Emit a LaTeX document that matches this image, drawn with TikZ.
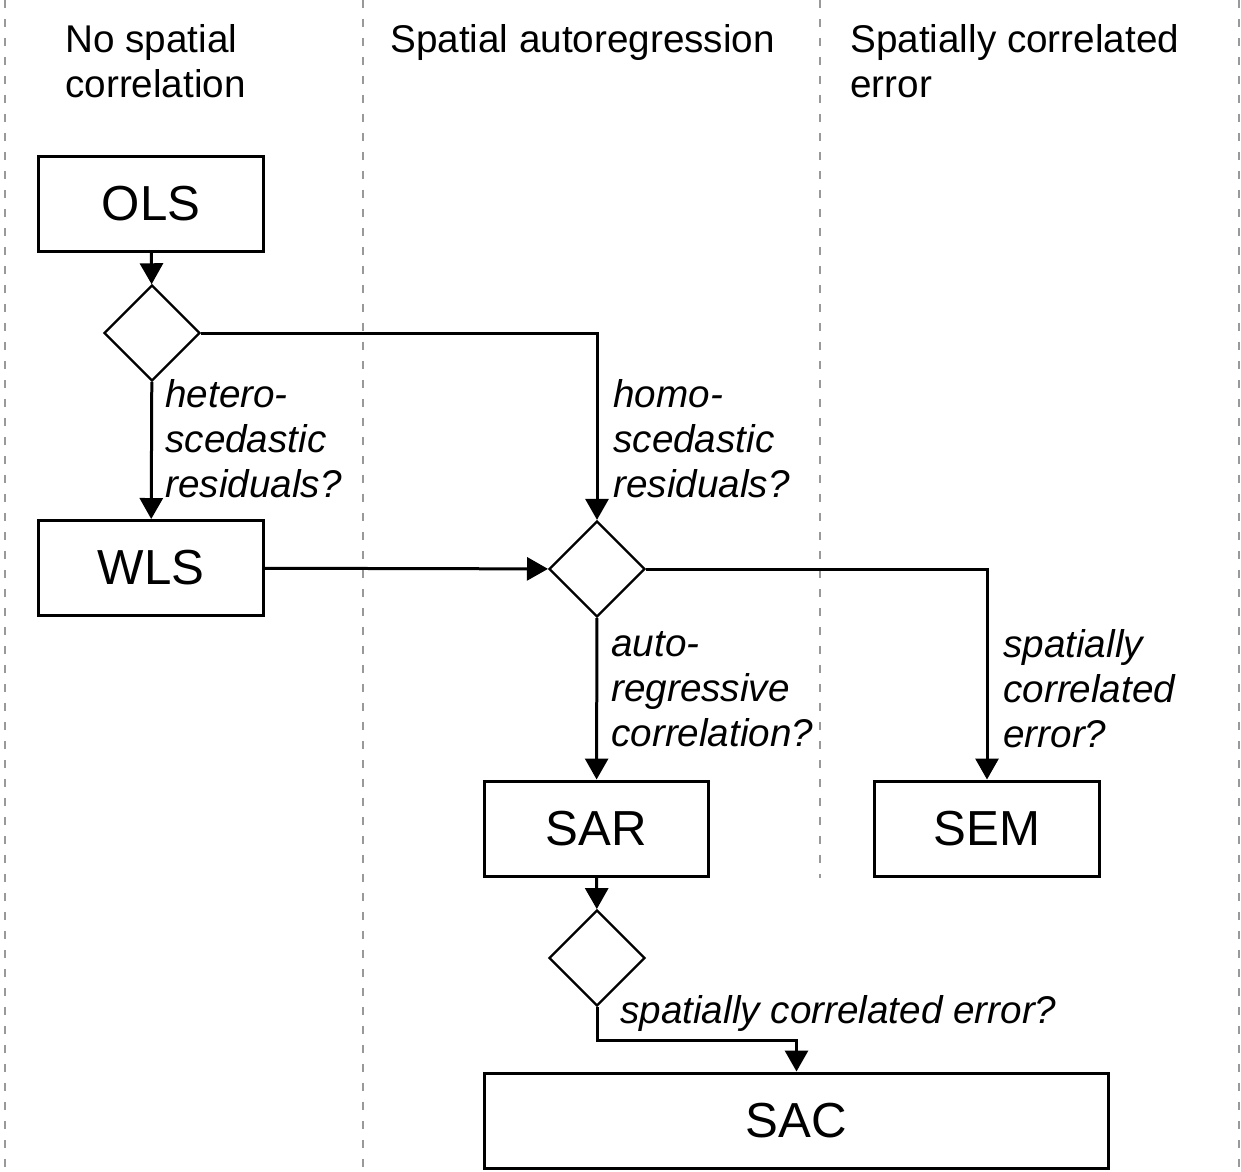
\documentclass[tikz,border=0pt]{standalone}
\usepackage{fontspec}
\setmainfont{Liberation Sans}
\usepackage{tikz}
\usetikzlibrary{arrows.meta}
\usetikzlibrary{calc}
\usetikzlibrary{shapes.geometric}

\begin{document}
\begin{tikzpicture}[ x=0.02cm, y=-0.02cm,
      flow/.style={ line width=0.06cm, -{Triangle[length=0.42cm,width=0.46cm]}},
      model/.style={ draw, line width=0.06cm, minimum width=4.5cm, minimum height=1.9cm,
                     inner sep=0pt, font=\fontsize{28}{32}\selectfont},
      test/.style={ draw, diamond, aspect=1, line width=0.045cm, minimum width=1.92cm,
                    minimum height=1.92cm, inner sep=0pt},
      lane line/.style={ dashed, dash pattern=on 0.16cm off 0.22cm, line width=0.04cm, color=gray!80},
      head/.style={ anchor=base west, align=left, inner sep=0pt, font=\fontsize{22}{25.5}\selectfont},
      question/.style={ anchor=base west, align=left, inner sep=0pt, font=\fontsize{22}{25.5}\selectfont\itshape}
      ]
      \useasboundingbox (0,0) rectangle (1241,1171);

      % lanes
      \draw[lane line] (5,0) -- (5,1171);
      \draw[lane line] (363,0) -- (363,1171);
      \draw[lane line] (820,0) -- (820,878);
      \draw[lane line] (1239,0) -- (1239,1171);

      % base = last line
      \node[head] (HeadA) at (65,97) {No spatial\\correlation};
      \node[head] (HeadB) at (390,52) {Spatial autoregression};
      \node[head] (HeadC) at (850,97) {Spatially correlated\\error};

      % models
      \node[model] (OLS) at (151,204) {OLS};
      \node[model] (WLS) at (151,568) {WLS};
      \node[model] (SAR) at (596.5,828.5) {SAR};
      \node[model] (SEM) at (987,828.5) {SEM};
      \node[model, minimum width=12.5cm] (SAC) at (796.5,1120.5) {SAC};

      % tests
      \node[test] (TestA) at (152,333) {};
      \node[test] (TestB) at (597,569) {};
      \node[test] (TestC) at (597,958) {};

      % flow
      \draw[flow] (OLS) -- (TestA);
      \draw[flow] (TestA) -- (WLS) ;
      \draw[flow] (TestA.east) -| (TestB.north);
      \draw[flow] (WLS) -- (TestB);
      \draw[flow] (TestB.east) -| (SEM.north);
      \draw[flow] (TestB) -- (SAR);
      \draw[flow] (SAR) -- (TestC);
      \coordinate (Kink) at (597,1040);
      \draw[flow] (TestC.south) -- (Kink) -| (SAC.north);

      \node[question] (QHet) at (165,497) {hetero-\\scedastic\\residuals?};
      \node[question] (QHom) at (613,497) {homo-\\scedastic\\residuals?};
      \node[question] (QAuto) at (611,746) {auto-\\regressive\\correlation?};
      \node[question] (QErr) at (1003,747) {spatially\\correlated\\error?};
      \node[question] (QBoth) at (620,1023) {spatially correlated error?};
    \end{tikzpicture}
\end{document}
